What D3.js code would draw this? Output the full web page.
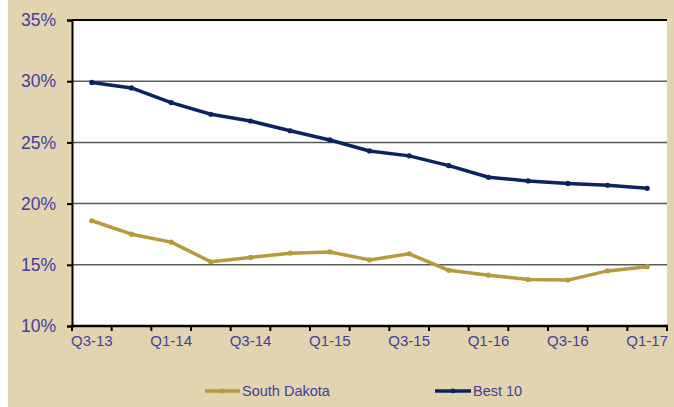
<!DOCTYPE html>
<html>
<head>
<meta charset="utf-8">
<script src="https://cdn.jsdelivr.net/npm/d3@7"></script>
<style>
  html, body { margin: 0; padding: 0; background: #ffffff; }
  svg { display: block; }
  text { font-family: "Liberation Sans", Arial, sans-serif; }
</style>
</head>
<body>
<svg id="chart" width="674" height="407"></svg>
<script>
// Quarterly series, Q3-2013 through Q1-2017 (percent)
const quarters = ["Q3-13","Q4-13","Q1-14","Q2-14","Q3-14","Q4-14","Q1-15","Q2-15",
                  "Q3-15","Q4-15","Q1-16","Q2-16","Q3-16","Q4-16","Q1-17"];
const southDakota = [18.6, 17.5, 16.85, 15.25, 15.6, 15.95, 16.05, 15.4,
                     15.9, 14.55, 14.15, 13.8, 13.75, 14.5, 14.85];
const best10 = [29.9, 29.45, 28.25, 27.3, 26.75, 25.95, 25.2, 24.3,
                23.9, 23.1, 22.15, 21.85, 21.65, 21.5, 21.25];
const yTicks = [10, 15, 20, 25, 30, 35];
const xLabelEvery = 2;

const seriesList = [
  { name: "South Dakota", values: southDakota, color: "#B9993D" },
  { name: "Best 10", values: best10, color: "#0B2461" }
];

const W = 674, H = 407;
const plot = { left: 72, right: 667, top: 20, bottom: 326 };
const textColor = "#4040A0";

const svg = d3.select("#chart");

// page background panel
svg.append("rect").attr("x", 8).attr("y", 0).attr("width", W - 8).attr("height", H)
  .attr("fill", "#E1D4AF");

// plot area
svg.append("rect")
  .attr("x", plot.left).attr("y", plot.top)
  .attr("width", plot.right - plot.left).attr("height", plot.bottom - plot.top)
  .attr("fill", "#ffffff");

const x = d3.scaleBand().domain(quarters).range([plot.left, plot.right]).padding(0);
const y = d3.scaleLinear().domain([10, 35]).range([plot.bottom, plot.top]);

// horizontal gridlines
svg.append("g").selectAll("line")
  .data(yTicks.filter(t => t > 10 && t < 35))
  .join("line")
  .attr("x1", plot.left).attr("x2", plot.right)
  .attr("y1", d => y(d)).attr("y2", d => y(d))
  .attr("stroke", "#5a5a5a").attr("stroke-width", 1.5);

// top border of plot
svg.append("line")
  .attr("x1", plot.left).attr("x2", plot.right)
  .attr("y1", y(35)).attr("y2", y(35))
  .attr("stroke", "#000").attr("stroke-width", 2);

// y axis
const yAxis = svg.append("g")
  .attr("transform", `translate(${plot.left},0)`)
  .call(d3.axisLeft(y).tickValues(yTicks).tickFormat(d => d + "%").tickSize(5).tickPadding(11));
yAxis.select(".domain").attr("stroke", "#000").attr("stroke-width", 2);
yAxis.selectAll(".tick line").attr("stroke", "#000").attr("stroke-width", 2);
yAxis.selectAll(".tick text")
  .attr("fill", textColor).attr("font-size", 17.5)
  .attr("font-family", "Liberation Sans, Arial, sans-serif");

// x axis: ticks on category boundaries, labels every other quarter
const xAxisG = svg.append("g").attr("transform", `translate(0,${plot.bottom})`);
const boundaries = quarters.map(q => x(q)).concat([plot.right]);
xAxisG.append("line")
  .attr("x1", plot.left - 1).attr("x2", plot.right + 1)
  .attr("y1", 0).attr("y2", 0)
  .attr("stroke", "#000").attr("stroke-width", 2.5);
xAxisG.selectAll("line.tk").data(boundaries).join("line")
  .attr("class", "tk")
  .attr("x1", d => d).attr("x2", d => d)
  .attr("y1", 0).attr("y2", 5)
  .attr("stroke", "#000").attr("stroke-width", 2);
xAxisG.selectAll("text").data(quarters.filter((q, i) => i % xLabelEvery === 0)).join("text")
  .attr("x", d => x(d) + x.bandwidth() / 2)
  .attr("y", 20)
  .attr("text-anchor", "middle")
  .attr("fill", textColor).attr("font-size", 15)
  .text(d => d);

// series lines with small point markers
const line = d3.line()
  .x((d, i) => x(quarters[i]) + x.bandwidth() / 2)
  .y(d => y(d));

seriesList.forEach(s => {
  const g = svg.append("g");
  g.append("path")
    .datum(s.values)
    .attr("d", line)
    .attr("fill", "none")
    .attr("stroke", s.color)
    .attr("stroke-width", 3.5)
    .attr("stroke-linejoin", "round");
  g.selectAll("circle").data(s.values).join("circle")
    .attr("cx", (d, i) => x(quarters[i]) + x.bandwidth() / 2)
    .attr("cy", d => y(d))
    .attr("r", 2.6)
    .attr("fill", s.color);
});

// legend
const legendItems = [
  { s: seriesList[0], x0: 205, x1: 240 },
  { s: seriesList[1], x0: 435, x1: 471 }
];
const legendY = 391;
legendItems.forEach(item => {
  const g = svg.append("g");
  g.append("line")
    .attr("x1", item.x0).attr("x2", item.x1)
    .attr("y1", legendY).attr("y2", legendY)
    .attr("stroke", item.s.color).attr("stroke-width", 3.5);
  g.append("circle")
    .attr("cx", (item.x0 + item.x1) / 2).attr("cy", legendY).attr("r", 2.4)
    .attr("fill", item.s.color);
  g.append("text")
    .attr("x", item.x1 + 2).attr("y", legendY + 5)
    .attr("fill", textColor).attr("font-size", 14.5)
    .text(item.s.name);
});
</script>
</body>
</html>
